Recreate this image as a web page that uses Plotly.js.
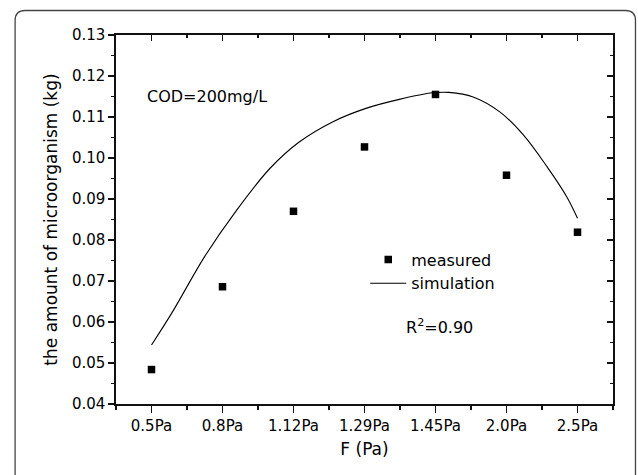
<!DOCTYPE html>
<html>
<head>
<meta charset="utf-8">
<script src="https://cdn.plot.ly/plotly-3.0.1.min.js"></script>
<style>
  html, body { margin: 0; padding: 0; background: #fff; }
  #chart { width: 638px; height: 475px; }
</style>
</head>
<body>
<div id="chart"></div>
<script>
// ---- data ----
const categories = ['0.5Pa', '0.8Pa', '1.12Pa', '1.29Pa', '1.45Pa', '2.0Pa', '2.5Pa'];
const measured = [0.0484, 0.0686, 0.0870, 0.1027, 0.1155, 0.0958, 0.0819];
// simulation curve read at positions along the category axis (0 = first category)
const simPos = [0, 0.30, 0.75, 1.20, 1.67, 2.08, 2.55, 3.02, 3.49, 3.96, 4.19, 4.53, 4.91, 5.24, 5.57, 5.85, 6.0];
const simValues = [0.0544, 0.0626, 0.0760, 0.0873, 0.0975, 0.1039, 0.1088, 0.1121, 0.1143, 0.1159, 0.1160, 0.1149, 0.1112, 0.1056, 0.0979, 0.0905, 0.0853];
const yTickVals = [0.04, 0.05, 0.06, 0.07, 0.08, 0.09, 0.10, 0.11, 0.12, 0.13];

const catPos = categories.map((c, i) => i);
const FONT = 'DejaVu Sans, Liberation Sans, Arial, sans-serif';
const INK = '#111';

const W = 638, H = 475;
const M = { l: 116, r: 24.5, t: 35, b: 71 };
const PW = W - M.l - M.r, PH = H - M.t - M.b;
const px = x => (x - M.l) / PW;
const py = y => (H - M.b - y) / PH;

// rounded outer frame (extends below the picture)
function roundedFrame(x0, y0, x1, y1, r) {
  const P = (x, y) => px(x) + ',' + py(y);
  return 'M' + P(x0, y1) + ' L' + P(x0, y0 + r) + ' Q' + P(x0, y0) + ' ' + P(x0 + r, y0) +
         ' L' + P(x1 - r, y0) + ' Q' + P(x1, y0) + ' ' + P(x1, y0 + r) + ' L' + P(x1, y1);
}

const traces = [
  {
    x: catPos, y: measured, name: 'measured', type: 'scatter', mode: 'markers',
    marker: { symbol: 'square', size: 7.5, color: '#000' }
  },
  {
    x: simPos, y: simValues, name: 'simulation', type: 'scatter', mode: 'lines',
    line: { color: '#000', width: 1.1, shape: 'spline', smoothing: 1 }
  },
  {
    // carries the mirrored top/right axes (inward ticks)
    x: catPos, y: measured, xaxis: 'x2', yaxis: 'y2', type: 'scatter', mode: 'markers',
    marker: { opacity: 0 }, showlegend: false, hoverinfo: 'skip'
  }
];

const axisCommon = {
  showgrid: false, zeroline: false, showline: true,
  linecolor: INK, linewidth: 1.6, tickcolor: INK, tickwidth: 1.4,
  tickfont: { family: FONT, size: 15, color: '#000' }
};

const layout = {
  width: W, height: H,
  margin: M,
  paper_bgcolor: '#fff', plot_bgcolor: '#fff',
  font: { family: FONT, color: '#000' },
  showlegend: true,
  legend: {
    x: px(365.5), y: py(242.5), xanchor: 'left', yanchor: 'top',
    bgcolor: 'rgba(0,0,0,0)', borderwidth: 0, itemwidth: 36,
    font: { family: FONT, size: 16, color: '#000' }
  },
  xaxis: Object.assign({}, axisCommon, {
    range: [-0.5, 6.5], tickmode: 'array', tickvals: catPos, ticktext: categories,
    ticks: 'outside', ticklen: 7,
    minor: { tickmode: 'linear', tick0: 0.5, dtick: 1, ticks: 'outside', ticklen: 4, tickcolor: INK, tickwidth: 1.2 },
    title: { text: 'F (Pa)', font: { family: FONT, size: 17, color: '#000' }, standoff: 9 }
  }),
  yaxis: Object.assign({}, axisCommon, {
    range: [0.04, 0.13], tickmode: 'array', tickvals: yTickVals, tickformat: '.2f',
    ticks: 'outside', ticklen: 6,
    minor: { tickmode: 'linear', tick0: 0.045, dtick: 0.01, ticks: 'outside', ticklen: 3, tickcolor: INK, tickwidth: 1.2 },
    title: { text: 'the amount of microorganism (kg)', font: { family: FONT, size: 17, color: '#000' }, standoff: 10 }
  }),
  xaxis2: Object.assign({}, axisCommon, {
    overlaying: 'x', side: 'top', range: [-0.5, 6.5],
    tickmode: 'array', tickvals: catPos, showticklabels: false,
    ticks: 'inside', ticklen: 6,
    minor: { tickmode: 'linear', tick0: 0.5, dtick: 1, ticks: 'inside', ticklen: 3, tickcolor: INK, tickwidth: 1.2 }
  }),
  yaxis2: Object.assign({}, axisCommon, {
    overlaying: 'y', side: 'right', range: [0.04, 0.13],
    tickmode: 'array', tickvals: yTickVals, showticklabels: false,
    ticks: 'inside', ticklen: 6,
    minor: { tickmode: 'linear', tick0: 0.045, dtick: 0.01, ticks: 'inside', ticklen: 3, tickcolor: INK, tickwidth: 1.2 }
  }),
  annotations: [
    {
      x: -0.094, y: 0.1151, xref: 'x', yref: 'y', xanchor: 'left', yanchor: 'middle',
      text: 'COD=200mg/L', showarrow: false, font: { family: FONT, size: 16, color: '#000' }
    },
    {
      x: 3.556, y: 0.0589, xref: 'x', yref: 'y', xanchor: 'left', yanchor: 'middle',
      text: 'R<sup>2</sup>=0.90', showarrow: false, font: { family: FONT, size: 16, color: '#000' }
    }
  ],
  shapes: [
    {
      type: 'path', xref: 'paper', yref: 'paper', layer: 'below',
      path: roundedFrame(15, 10.5, 636, 520, 10),
      line: { color: '#444', width: 1.3 }, fillcolor: 'rgba(0,0,0,0)'
    }
  ]
};

Plotly.newPlot('chart', traces, layout, { displayModeBar: false, staticPlot: true });
</script>
</body>
</html>
